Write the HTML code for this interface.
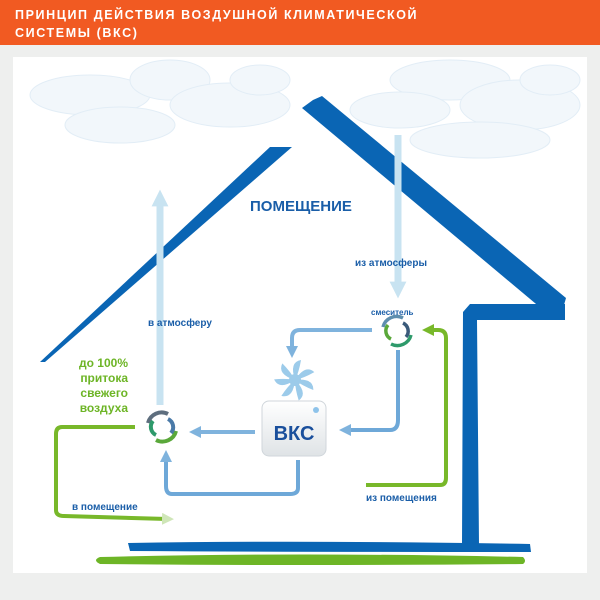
<!DOCTYPE html>
<html><head><meta charset="utf-8"><style>
html,body{margin:0;padding:0;width:600px;height:600px;overflow:hidden;background:#eeefee;font-family:"Liberation Sans","DejaVu Sans",sans-serif}
</style></head><body>
<svg width="600" height="600" viewBox="0 0 600 600" xmlns="http://www.w3.org/2000/svg">
<defs>
<marker id="al" markerWidth="3" markerHeight="3" refX="1.5" refY="1.5" orient="auto" markerUnits="strokeWidth"><path d="M0,0 L3,1.5 L0,3 z" fill="#7fb3dd"/></marker>
<marker id="ap" markerWidth="2.4" markerHeight="2.4" refX="1.2" refY="1.2" orient="auto" markerUnits="strokeWidth"><path d="M0,0 L2.4,1.2 L0,2.4 z" fill="#c8e3f1"/></marker>
<marker id="ag" markerWidth="3" markerHeight="3" refX="1.5" refY="1.5" orient="auto" markerUnits="strokeWidth"><path d="M0,0 L3,1.5 L0,3 z" fill="#78b82a"/></marker>
<marker id="agp" markerWidth="3" markerHeight="3" refX="1.5" refY="1.5" orient="auto" markerUnits="strokeWidth"><path d="M0,0 L3,1.5 L0,3 z" fill="#cfe6b8"/></marker>
<linearGradient id="box" x1="0" y1="0" x2="0" y2="1"><stop offset="0" stop-color="#ffffff"/><stop offset="1" stop-color="#dfe3e6"/></linearGradient>
</defs>
<rect x="0" y="0" width="600" height="45" fill="#f15a22"/>
<text x="15" y="19" font-size="12.5" font-weight="bold" fill="#fff" letter-spacing="1.6">ПРИНЦИП ДЕЙСТВИЯ ВОЗДУШНОЙ КЛИМАТИЧЕСКОЙ</text>
<text x="15" y="37" font-size="12.5" font-weight="bold" fill="#fff" letter-spacing="1.6">СИСТЕМЫ (ВКС)</text>
<rect x="13" y="57" width="574" height="516" fill="#fff"/>
<!-- clouds -->
<g fill="#f2f7fb" stroke="#e2edf6" stroke-width="1">
<ellipse cx="90" cy="95" rx="60" ry="20"/><ellipse cx="170" cy="80" rx="40" ry="20"/><ellipse cx="230" cy="105" rx="60" ry="22"/>
<ellipse cx="120" cy="125" rx="55" ry="18"/><ellipse cx="260" cy="80" rx="30" ry="15"/>
<ellipse cx="450" cy="80" rx="60" ry="20"/><ellipse cx="520" cy="105" rx="60" ry="25"/><ellipse cx="400" cy="110" rx="50" ry="18"/>
<ellipse cx="480" cy="140" rx="70" ry="18"/><ellipse cx="550" cy="80" rx="30" ry="15"/>
</g>
<!-- house -->
<path d="M40,362 L270,147 L292,147 L45,362 Z" fill="#0a65b4"/>
<path d="M313,100 L322,96 L566,298 L562,312 L548,314 L302,108 Z" fill="#0a65b4"/>
<path d="M463,312 L462,545 L479,545 L477,320 L565,320 L565,304 L470,304 Z" fill="#0a65b4"/>
<path d="M128,543 Q300,540 530,544 L531,552 Q300,552 130,551 Z" fill="#0a65b4"/>
<path d="M100,557 Q300,552 523,557 Q527,561 523,564 Q300,566 100,564 Q92,560 100,557 Z" fill="#6db526"/>
<text x="250" y="211" font-size="15" font-weight="bold" fill="#1a5ea8">ПОМЕЩЕНИЕ</text>
<!-- pale arrows -->
<line x1="160" y1="405" x2="160" y2="198" stroke="#c8e3f1" stroke-width="7" marker-end="url(#ap)"/>
<line x1="398" y1="135" x2="398" y2="290" stroke="#c8e3f1" stroke-width="7" marker-end="url(#ap)"/>
<!-- light blue flows -->
<path d="M372,330 L300,330 Q292,330 292,338 L292,352" fill="none" stroke="#7fb3dd" stroke-width="4" marker-end="url(#al)"/>
<path d="M398,350 L398,420 Q398,430 390,430 L345,430" fill="none" stroke="#6ea8d8" stroke-width="4" marker-end="url(#al)"/>
<path d="M255,432 L195,432" fill="none" stroke="#7fb3dd" stroke-width="4" marker-end="url(#al)"/>
<path d="M298,460 L298,488 Q298,494 290,494 L172,494 Q166,494 166,486 L166,456" fill="none" stroke="#6ea8d8" stroke-width="4" marker-end="url(#al)"/>
<!-- green flows -->
<path d="M135,427 L62,427 Q56,427 56,434 L56,510 Q56,516 64,516 L168,519" fill="none" stroke="#78b82a" stroke-width="4" marker-end="url(#agp)"/>
<path d="M366,485 L440,485 Q446,485 446,478 L446,338 Q446,330 438,330 L428,330" fill="none" stroke="#78b82a" stroke-width="4" marker-end="url(#ag)"/>
<!-- swirls -->
<g transform="translate(162,427)" fill="none" stroke-width="4">
<path d="M-14,-4 A14,14 0 0 1 6,-13" stroke="#5e6e7e"/><path d="M14,4 A14,14 0 0 1 -6,13" stroke="#5aa83a"/>
<path d="M-6,8 A9,9 0 0 1 -9,-6" stroke="#2e9a6b"/><path d="M6,-8 A9,9 0 0 1 9,6" stroke="#4a7aa8"/>
</g>
<g transform="translate(397,331)" fill="none" stroke-width="3.5">
<path d="M-14,-4 A14,14 0 0 1 6,-13" stroke="#5e8eae"/><path d="M14,4 A14,14 0 0 1 -6,13" stroke="#2e9a6b"/>
<path d="M-6,8 A9,9 0 0 1 -9,-6" stroke="#5aa83a"/><path d="M6,-8 A9,9 0 0 1 9,6" stroke="#3a5a7a"/>
</g>
<!-- fan -->
<g transform="translate(295,380)" fill="#9ccbea">
<path d="M0,0 Q-6,-18 6,-20 Q4,-8 0,0Z"/><path d="M0,0 Q-6,-18 6,-20 Q4,-8 0,0Z" transform="rotate(51)"/>
<path d="M0,0 Q-6,-18 6,-20 Q4,-8 0,0Z" transform="rotate(102)"/><path d="M0,0 Q-6,-18 6,-20 Q4,-8 0,0Z" transform="rotate(153)"/>
<path d="M0,0 Q-6,-18 6,-20 Q4,-8 0,0Z" transform="rotate(204)"/><path d="M0,0 Q-6,-18 6,-20 Q4,-8 0,0Z" transform="rotate(255)"/>
<path d="M0,0 Q-6,-18 6,-20 Q4,-8 0,0Z" transform="rotate(306)"/><circle r="6"/>
</g>
<!-- box -->
<rect x="262" y="401" width="64" height="55" rx="7" fill="url(#box)" stroke="#d0d6db"/>
<text x="294" y="440" text-anchor="middle" font-size="20" font-weight="bold" fill="#1a4f9c">ВКС</text>
<circle cx="316" cy="410" r="3" fill="#8ec3ea"/>
<!-- labels -->
<g font-size="10" font-weight="bold" fill="#1a5ea8">
<text x="148" y="326">в атмосферу</text>
<text x="355" y="266">из атмосферы</text>
<text x="371" y="315" font-size="8">смеситель</text>
<text x="72" y="510">в помещение</text>
<text x="366" y="501">из помещения</text>
</g>
<g font-size="12" font-weight="bold" fill="#6db526" text-anchor="end">
<text x="128" y="367">до 100%</text><text x="128" y="382">притока</text>
<text x="128" y="397">свежего</text><text x="128" y="412">воздуха</text>
</g>
</svg>
</body></html>
